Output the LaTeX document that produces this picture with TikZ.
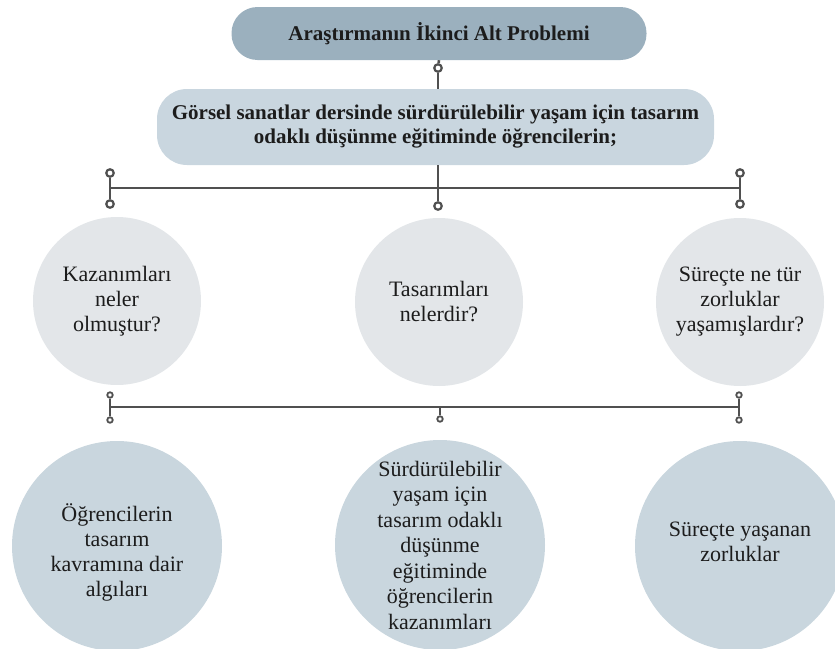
\documentclass[tikz,border=0pt]{standalone}
\usepackage{fontspec}
\setmainfont{Liberation Serif}
\definecolor{headfill}{HTML}{9BB0BE}
\definecolor{subfill}{HTML}{C9D6DF}
\definecolor{qfill}{HTML}{E3E6E9}
\definecolor{afill}{HTML}{C9D6DE}
\definecolor{wire}{HTML}{505050}
\definecolor{ink}{HTML}{1C1C1C}
\begin{document}
\begin{tikzpicture}[x=1pt,y=-1pt,
  headbox/.style={rounded corners=26pt, fill=headfill, minimum width=415pt,
    minimum height=53pt, inner sep=0pt, text=ink,
    font=\bfseries\fontsize{21}{25}\selectfont},
  subbox/.style={rounded corners=30pt, fill=subfill, minimum width=557pt,
    minimum height=76pt, inner sep=0pt, align=center, text=ink,
    font=\bfseries\fontsize{21}{24}\selectfont},
  qdisc/.style={circle, fill=qfill, minimum size=168pt, inner sep=0pt},
  adisc/.style={circle, fill=afill, minimum size=210pt, inner sep=0pt},
  disctext/.style={align=center, text=ink, inner sep=0pt,
    font=\fontsize{22}{25}\selectfont},
  bigpin/.style={circle, draw=wire, line width=2.2pt, fill=white,
    minimum size=7.5pt, inner sep=0pt},
  smallpin/.style={circle, draw=wire, line width=1.8pt, fill=white,
    minimum size=5.5pt, inner sep=0pt},
  thickwire/.style={draw=wire, line width=2.6pt},
  thinwire/.style={draw=wire, line width=2pt},
]
\useasboundingbox (0,0) rectangle (835,648);
\clip (0,0) rectangle (835,648);

% heading and sub-heading
\node[headbox] (head) at (439,33.5) {Araştırmanın İkinci Alt Problemi};
\node[subbox] (sub) at (435.5,127) {Görsel sanatlar dersinde sürdürülebilir yaşam için tasarım\\odaklı düşünme eğitiminde öğrencilerin;};

% question discs
\node[qdisc] (q1) at (117,301) {};
\node[disctext] (q1t) at (q1) {Kazanımları\\neler\\olmuştur?};
\node[qdisc] (q2) at (439,302) {};
\node[disctext] (q2t) at (q2) {Tasarımları\\nelerdir?};
\node[qdisc] (q3) at (740,302) {};
\node[disctext] (q3t) at (q3) {Süreçte ne tür\\zorluklar\\yaşamışlardır?};

% answer discs
\node[adisc] (a1) at (117,546) {};
\node[disctext] (a1t) at ([yshift=-6pt]a1) {Öğrencilerin\\tasarım\\kavramına dair\\algıları};
\node[adisc] (a2) at (440,545) {};
\node[disctext, font=\fontsize{22}{25.5}\selectfont] (a2t) at (a2) {Sürdürülebilir\\yaşam için\\tasarım odaklı\\düşünme\\eğitiminde\\öğrencilerin\\kazanımları};
\node[adisc] (a3) at (740,546) {};
\node[disctext] (a3t) at ([yshift=4pt]a3) {Süreçte yaşanan\\zorluklar};

% link from heading to sub-heading
\node[bigpin] (p0) at (438,68) {};
\draw[thickwire] (head.south) -- (p0);
\draw[thickwire] (p0) -- (sub.north -| p0);

% upper branching bus
\coordinate (j0) at (438,188);
\coordinate (jl) at (110,188);
\coordinate (jr) at (740,188);
\node[bigpin] (pl1) at (110,173) {};
\node[bigpin] (pl2) at (110,204) {};
\node[bigpin] (pm1) at (438,206) {};
\node[bigpin] (pr1) at (740,173) {};
\node[bigpin] (pr2) at (740,204) {};
\draw[thickwire] (sub.south -| j0) -- (j0);
\draw[thickwire] (jl) -- (jr);
\draw[thickwire] (j0) -- (pm1);
\draw[thickwire] (pl1) -- (pl2);
\draw[thickwire] (pr1) -- (pr2);

% lower branching bus
\coordinate (kl) at (110,407);
\coordinate (km) at (440,407);
\coordinate (kr) at (739,407);
\node[smallpin] (ql1) at (110,395) {};
\node[smallpin] (ql2) at (110,420) {};
\node[smallpin] (qm1) at (440,419) {};
\node[smallpin] (qr1) at (739,395) {};
\node[smallpin] (qr2) at (739,420) {};
\draw[thinwire] (kl) -- (kr);
\draw[thinwire] (km) -- (qm1);
\draw[thinwire] (ql1) -- (ql2);
\draw[thinwire] (qr1) -- (qr2);
\end{tikzpicture}
\end{document}
